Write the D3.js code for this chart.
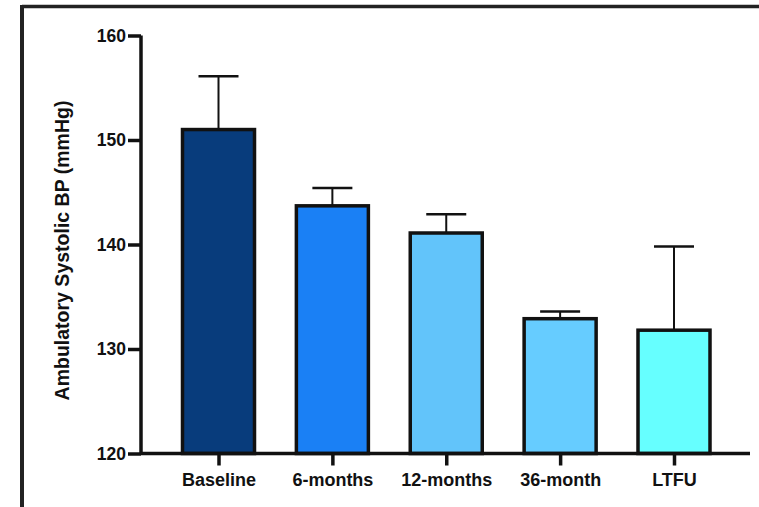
<!DOCTYPE html>
<html>
<head>
<meta charset="utf-8">
<script src="https://cdn.jsdelivr.net/npm/d3@7"></script>
<style>
  html, body { margin: 0; padding: 0; background: #fff; }
  svg { display: block; }
  text { font-family: "Liberation Sans", Arial, sans-serif; font-weight: bold; fill: #111; }
</style>
</head>
<body>
<svg id="chart" width="759" height="507"></svg>
<script>
// Ambulatory systolic BP by follow-up visit (mean with upper error bar)
const categories = ["Baseline", "6-months", "12-months", "36-month", "LTFU"];
const meanBP = [151.0, 143.7, 141.1, 132.9, 131.8];
const errorBP = [5.1, 1.7, 1.8, 0.7, 8.0];
const barColors = ["#083c7c", "#1a80f5", "#62c4fa", "#66ccff", "#66ffff"];
const yTicks = [120, 130, 140, 150, 160];
const yLabel = "Ambulatory Systolic BP (mmHg)";

const svg = d3.select("#chart");

// outer frame (top and left edges)
svg.append("line").attr("x1", 22).attr("x2", 759).attr("y1", 6.5).attr("y2", 6.5)
  .attr("stroke", "#222").attr("stroke-width", 3.5);
svg.append("line").attr("x1", 22).attr("x2", 22).attr("y1", 5).attr("y2", 507)
  .attr("stroke", "#222").attr("stroke-width", 4);

const axisX = 141, axisBottom = 453.5, axisTop = 35.5, axisRight = 750;
const barWidth = 72;

const y = d3.scaleLinear().domain([120, 160]).range([axisBottom, axisTop]);
const x = d3.scalePoint().domain(categories).range([218.5, 674]);

const data = categories.map((c, i) => ({ cat: c, mean: meanBP[i], err: errorBP[i], color: barColors[i] }));

// error bars (upper only)
const eb = svg.append("g");
eb.selectAll("line.stem").data(data).join("line")
  .attr("x1", d => x(d.cat)).attr("x2", d => x(d.cat))
  .attr("y1", d => y(d.mean)).attr("y2", d => y(d.mean + d.err))
  .attr("stroke", "#111").attr("stroke-width", 2);
eb.selectAll("line.cap").data(data).join("line")
  .attr("x1", d => x(d.cat) - 20).attr("x2", d => x(d.cat) + 20)
  .attr("y1", d => y(d.mean + d.err)).attr("y2", d => y(d.mean + d.err))
  .attr("stroke", "#111").attr("stroke-width", 2.5);

// bars
svg.append("g").selectAll("rect").data(data).join("rect")
  .attr("x", d => x(d.cat) - barWidth / 2)
  .attr("width", barWidth)
  .attr("y", d => y(d.mean))
  .attr("height", d => y(120) - y(d.mean))
  .attr("fill", d => d.color)
  .attr("stroke", "#111").attr("stroke-width", 3.5);

// y axis
const yAxis = svg.append("g").attr("transform", `translate(${axisX},0)`)
  .call(d3.axisLeft(y).tickValues(yTicks).tickSize(13).tickPadding(2).tickFormat(d3.format("d")));
yAxis.select(".domain").attr("d", `M0,${axisTop}V${axisBottom}`).attr("stroke", "#111").attr("stroke-width", 3.5);
yAxis.selectAll(".tick line").attr("stroke", "#111").attr("stroke-width", 3.5);
yAxis.selectAll(".tick text").attr("font-size", 17.5).attr("font-family", "Liberation Sans, Arial, sans-serif")
  .attr("font-weight", "bold").attr("fill", "#111");

// x axis
const xAxis = svg.append("g").attr("transform", `translate(0,${axisBottom})`)
  .call(d3.axisBottom(x).tickSize(12).tickPadding(8));
xAxis.select(".domain").attr("d", `M${axisX},0H${axisRight}`).attr("stroke", "#111").attr("stroke-width", 3.5);
xAxis.selectAll(".tick line").attr("stroke", "#111").attr("stroke-width", 3.5);
xAxis.selectAll(".tick text").attr("font-size", 18).attr("font-family", "Liberation Sans, Arial, sans-serif")
  .attr("font-weight", "bold").attr("fill", "#111");

// y axis title
svg.append("text")
  .attr("transform", `translate(69,${(axisTop + axisBottom) / 2 + 6}) rotate(-90)`)
  .attr("text-anchor", "middle")
  .attr("font-size", 19.5)
  .text(yLabel);
</script>
</body>
</html>
